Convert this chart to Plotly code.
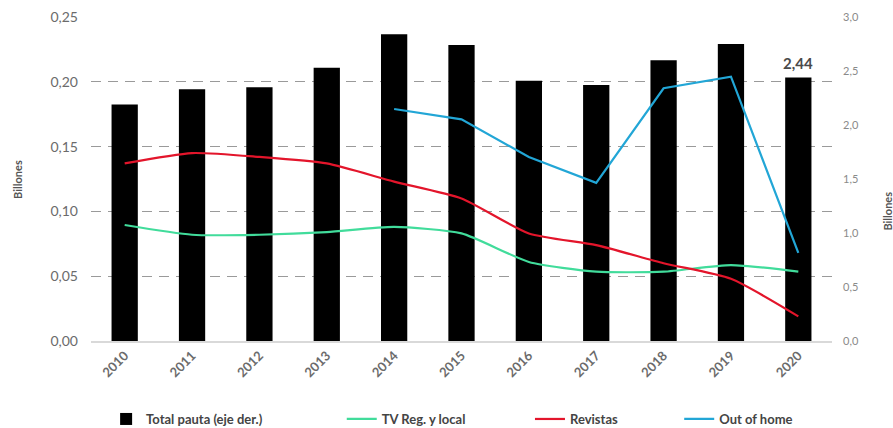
import plotly.graph_objects as go

years = ["2010", "2011", "2012", "2013", "2014", "2015", "2016", "2017", "2018", "2019", "2020"]

# Total advertising spend (right axis, billions)
total_pauta = [2.19, 2.33, 2.35, 2.53, 2.84, 2.74, 2.41, 2.37, 2.60, 2.75, 2.44]

# Segment spend (left axis, billions)
tv_reg_local = [0.0895, 0.082, 0.082, 0.084, 0.088, 0.083, 0.061, 0.0535, 0.0535, 0.0586, 0.0535]
revistas = [0.137, 0.145, 0.142, 0.137, 0.123, 0.110, 0.083, 0.074, 0.060, 0.048, 0.019]
out_of_home = [None, None, None, None, 0.179, 0.171, 0.142, 0.122, 0.195, 0.204, 0.068]

FONT = "Lato"
TICK_GRAY = "#6b6b6b"

fig = go.Figure()

fig.add_trace(go.Bar(
    x=years, y=total_pauta, name="Total pauta (eje der.)",
    marker=dict(color="#000000", line=dict(width=0)),
    yaxis="y", legend="legend",
))
fig.add_trace(go.Scatter(
    x=years, y=tv_reg_local, name="TV Reg. y local", mode="lines",
    line=dict(color="#41dc9b", width=2.2, shape="spline", smoothing=0.6),
    yaxis="y2", legend="legend2",
))
fig.add_trace(go.Scatter(
    x=years, y=revistas, name="Revistas", mode="lines",
    line=dict(color="#e3152b", width=2.2, shape="spline", smoothing=0.6),
    yaxis="y2", legend="legend3",
))
fig.add_trace(go.Scatter(
    x=years, y=out_of_home, name="Out of home", mode="lines",
    line=dict(color="#22a6d6", width=2.2),
    yaxis="y2", legend="legend4",
))

# Value label on the last bar (category axes take the serial index)
last_idx = len(years) - 1
last_label = f"{total_pauta[last_idx]:.2f}".replace(".", ",")
fig.add_annotation(
    x=last_idx, y=total_pauta[last_idx], xref="x", yref="y",
    text=f"<b>{last_label}</b>", showarrow=False,
    yanchor="bottom", yshift=3,
    font=dict(family=FONT, size=15, color="#4a4a4a"),
)

# Axis titles
fig.add_annotation(
    x=-0.1, y=0.5, xref="paper", yref="paper", text="<b>Billones</b>",
    textangle=-90, showarrow=False, xanchor="center",
    font=dict(family=FONT, size=11, color="#555555"),
)
fig.add_annotation(
    x=1.063, y=0.4, xref="paper", yref="paper", text="<b>Billones</b>",
    textangle=-90, showarrow=False, xanchor="left",
    font=dict(family=FONT, size=11, color="#555555"),
)

legend_common = dict(
    orientation="h", yref="container", yanchor="middle", y=0.021, xanchor="left",
    bgcolor="rgba(0,0,0,0)", borderwidth=0,
    font=dict(family=FONT, size=13, color="#444444", weight="bold"),
)

fig.update_layout(
    width=893, height=428,
    margin=dict(l=91, r=61, t=17, b=87, autoexpand=False),
    paper_bgcolor="white", plot_bgcolor="white",
    separators=",.",
    bargap=0.61,
    showlegend=True,
    font=dict(family=FONT, color=TICK_GRAY),
    xaxis=dict(
        type="category", tickangle=-45, automargin=False,
        range=[-0.5, len(years) - 0.5],
        tickfont=dict(family=FONT, size=13, color=TICK_GRAY, weight="bold"),
        showgrid=False, showline=True, linecolor="#d9d9d9", linewidth=2,
        ticks="", zeroline=False,
    ),
    yaxis=dict(
        side="right", range=[0, 3], dtick=0.5, tickformat=".1f", automargin=False,
        showgrid=False, zeroline=False, showline=False, ticks="",
        tickfont=dict(family=FONT, size=11, color="#8a8a8a"),
        ticklabelstandoff=10,
    ),
    yaxis2=dict(
        side="left", overlaying="y", range=[0, 0.25], dtick=0.05, tickformat=".2f",
        automargin=False,
        showgrid=True, gridcolor="#9a9a9a", gridwidth=1.3, griddash="10px,7px",
        zeroline=False, showline=False, ticks="",
        tickfont=dict(family=FONT, size=14, color=TICK_GRAY),
        ticklabelstandoff=12,
    ),
    legend=dict(legend_common, x=0.0204),
    legend2=dict(legend_common, x=0.3384),
    legend3=dict(legend_common, x=0.5924),
    legend4=dict(legend_common, x=0.7938),
)

fig.write_html("out.html")
